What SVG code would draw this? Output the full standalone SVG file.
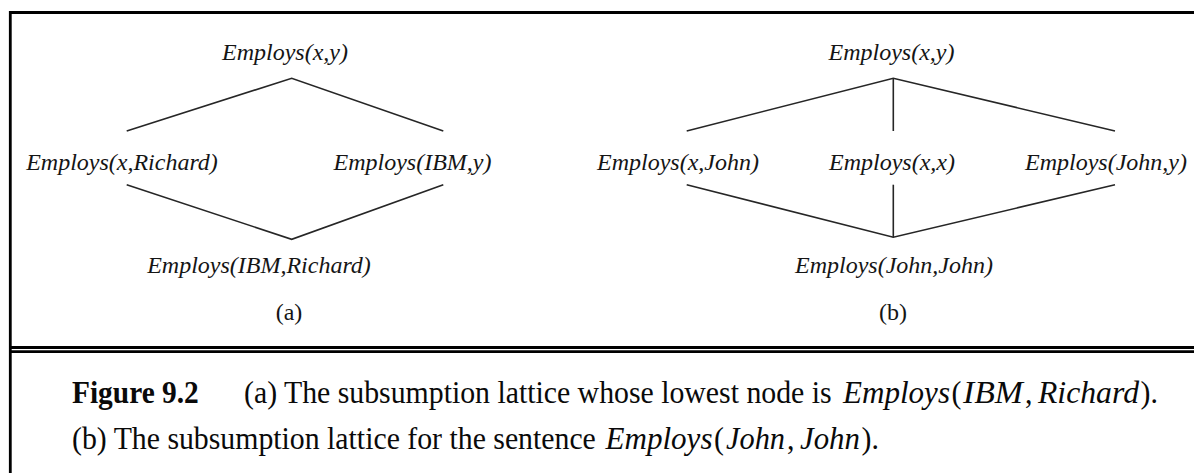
<svg xmlns="http://www.w3.org/2000/svg" width="1194" height="473" viewBox="0 0 1194 473">
  <style>
    .frame { stroke: #000; fill: none; }
    .edge { stroke: #262626; stroke-width: 1.6; fill: none; stroke-linejoin: miter; }
    .node { font-family: "Liberation Serif", "Times New Roman", serif; font-style: italic; font-size: 24px; fill: #151515; text-anchor: middle; }
    .tag { font-family: "Liberation Serif", "Times New Roman", serif; font-size: 24px; fill: #151515; text-anchor: middle; }
    .cap { font-family: "Liberation Serif", "Times New Roman", serif; font-size: 29.8px; fill: #0a0a0a; }
    .capb { font-weight: bold; font-size: 29.4px; }
    .mi { font-style: italic; }
  </style>

  <rect width="1194" height="473" fill="#fff"/>

  <!-- outer frame and caption separator -->
  <g id="frame">
    <path class="frame" stroke-width="2.8" d="M10.3,473 V12.5 H1194"/>
    <path class="frame" stroke-width="3" d="M10.3,347.5 H1194"/>
    <path class="frame" stroke-width="2.6" d="M10.3,351.6 H1194"/>
  </g>

  <!-- lattice edges -->
  <g id="connectors">
    <path class="edge" d="M126.7,131 L291.7,78.3 L443.3,131"/>
    <path class="edge" d="M126.7,184.7 L291.7,239.3 L443.3,184.7"/>
    <path class="edge" d="M686.7,131 L893.3,78.3 L1115,131"/>
    <path class="edge" d="M893.3,78.3 V131"/>
    <path class="edge" d="M686.7,184.7 L893.3,237.3 L1115,184.7"/>
    <path class="edge" d="M893.3,184.7 V237.3"/>
  </g>

  <!-- lattice (a) -->
  <g id="a-top"><text class="node" x="285" y="60">Employs(x,y)</text></g>
  <g id="a-left"><text class="node" x="122" y="170">Employs(x,Richard)</text></g>
  <g id="a-right"><text class="node" x="412.5" y="170">Employs(IBM,y)</text></g>
  <g id="a-bottom"><text class="node" x="259" y="273">Employs(IBM,Richard)</text></g>
  <g id="a-label"><text class="tag" x="289" y="320">(a)</text></g>

  <!-- lattice (b) -->
  <g id="b-top"><text class="node" x="891.5" y="60">Employs(x,y)</text></g>
  <g id="b-left"><text class="node" x="678" y="170">Employs(x,John)</text></g>
  <g id="b-middle"><text class="node" x="892" y="170">Employs(x,x)</text></g>
  <g id="b-right"><text class="node" x="1106" y="170">Employs(John,y)</text></g>
  <g id="b-bottom"><text class="node" x="894" y="273">Employs(John,John)</text></g>
  <g id="b-label"><text class="tag" x="893" y="320">(b)</text></g>

  <!-- caption: prose runs plus the inline formulas, slightly tall type -->
  <g id="caption" transform="translate(0,426) scale(1,1.08) translate(0,-426)">
    <text class="cap capb" x="72" y="404.7">Figure 9.2</text>
    <text class="cap" x="244" y="404.7">(a) The subsumption lattice whose lowest node is</text>
    <text class="cap mi" x="843" y="404.7" textLength="107" lengthAdjust="spacingAndGlyphs">Employs</text>
    <text class="cap" x="951.5" y="404.7">(</text>
    <text class="cap mi" x="963" y="404.7" textLength="60" lengthAdjust="spacingAndGlyphs">IBM</text>
    <text class="cap" x="1025" y="404.7">,</text>
    <text class="cap mi" x="1038" y="404.7" textLength="101" lengthAdjust="spacingAndGlyphs">Richard</text>
    <text class="cap" x="1140.5" y="404.7">).</text>

    <text class="cap" x="72" y="447.3">(b) The subsumption lattice for the sentence</text>
    <text class="cap mi" x="605.5" y="447.3" textLength="107" lengthAdjust="spacingAndGlyphs">Employs</text>
    <text class="cap" x="714" y="447.3">(</text>
    <text class="cap mi" x="726" y="447.3" textLength="59" lengthAdjust="spacingAndGlyphs">John</text>
    <text class="cap" x="787" y="447.3">,</text>
    <text class="cap mi" x="800" y="447.3" textLength="60" lengthAdjust="spacingAndGlyphs">John</text>
    <text class="cap" x="861.5" y="447.3">).</text>
  </g>
</svg>
